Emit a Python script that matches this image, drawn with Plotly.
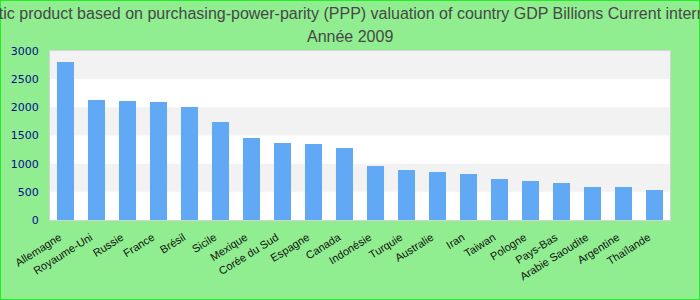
import plotly.graph_objects as go

categories = ["Allemagne", "Royaume-Uni", "Russie", "France", "Brésil", "Sicile", "Mexique",
              "Corée du Sud", "Espagne", "Canada", "Indonésie", "Turquie", "Australie", "Iran",
              "Taiwan", "Pologne", "Pays-Bas", "Arabie Saoudite", "Argentine", "Thaïlande"]
values = [2805, 2130, 2112, 2095, 2006, 1740, 1456, 1367, 1349, 1278, 959, 888, 852, 817,
          728, 692, 657, 586, 586, 533]
y_ticks = [0, 500, 1000, 1500, 2000, 2500, 3000]

title_line1 = ("Gross domestic product based on purchasing-power-parity (PPP) valuation of "
               "country GDP Billions Current international dollar")
title_line2 = "Année 2009"

W, H = 700, 300
ML, MR, MT, MB = 50, 30, 51, 80
PW, PH = W - ML - MR, H - MT - MB

fig = go.Figure()
fig.add_trace(go.Bar(x=categories, y=values, marker=dict(color="#62A9F5", line=dict(width=0)),
                     hoverinfo="x+y"))

shapes = []
for i in range(len(y_ticks) - 1):
    if (len(y_ticks) - 2 - i) % 2 == 0:
        shapes.append(dict(type="rect", xref="paper", yref="y", x0=0, x1=1,
                           y0=y_ticks[i], y1=y_ticks[i + 1], fillcolor="#F2F2F2",
                           line=dict(width=0), layer="below"))
# outer border of the picture
shapes.append(dict(type="rect", xref="paper", yref="paper",
                   x0=-ML / PW, x1=1 + MR / PW, y0=-MB / PH, y1=1 + MT / PH,
                   line=dict(color="#22EE22", width=2), fillcolor="rgba(0,0,0,0)", layer="above"))

fig.update_layout(
    width=W, height=H,
    margin=dict(l=ML, r=MR, t=MT, b=MB, pad=0),
    paper_bgcolor="#90EE90",
    plot_bgcolor="#FFFFFF",
    showlegend=False,
    bargap=0.45,
    shapes=shapes,
    title=dict(text=title_line1, x=0.5, xanchor="center", xref="container",
               y=1 - 13 / H, yref="container", yanchor="middle",
               font=dict(family="Liberation Sans, Arial", size=16, color="#474747")),
    annotations=[dict(text=title_line2, xref="paper", yref="paper", x=(W / 2 - ML) / PW,
                      y=1 + (MT - 36) / PH, xanchor="center", yanchor="middle", showarrow=False,
                      font=dict(family="Liberation Sans, Arial", size=16, color="#474747"))],
    xaxis=dict(type="category", tickangle=-32, showgrid=False, zeroline=False,
               showline=True, linecolor="#D4D4D4", linewidth=1, mirror=True,
               tickfont=dict(family="Liberation Sans, Arial", size=11, color="#111111"),
               ticks="", ticklabelshift=-6, ticklabelstandoff=6),
    yaxis=dict(range=[0, 3000], tickvals=y_ticks, showgrid=False, zeroline=False,
               showline=True, linecolor="#D4D4D4", linewidth=1, mirror=True,
               ticks="", ticklabelstandoff=8,
               tickfont=dict(family="DejaVu Sans, Verdana", size=11, color="#0A0A8C")),
)

fig.write_html("out.html")
